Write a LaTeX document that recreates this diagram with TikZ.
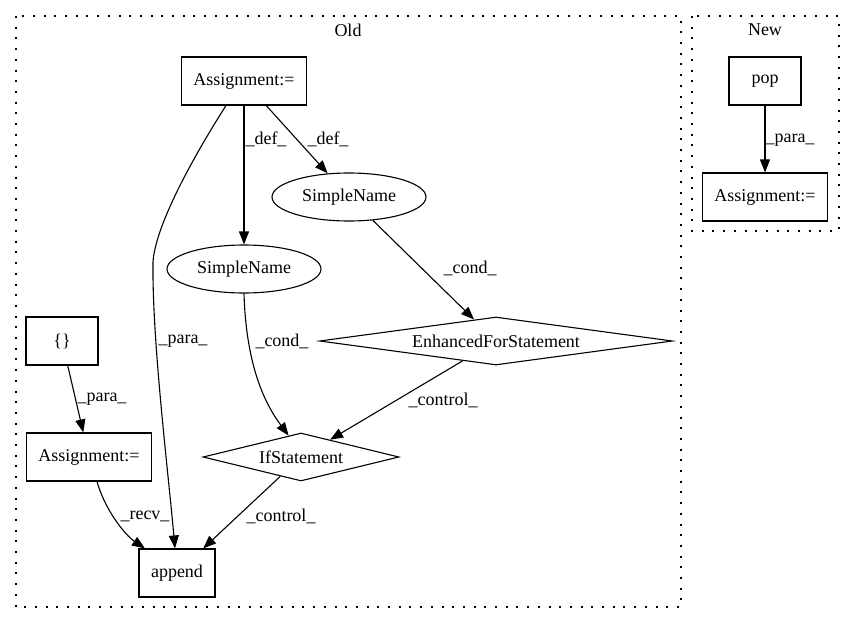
\documentclass[tikz,border=0pt]{standalone}
\usepackage{fontspec}
\setmainfont{Liberation Serif}
\usetikzlibrary{shapes.geometric,arrows.meta}

\tikzset{
  every node/.style={font=\fontsize{18}{21}\selectfont},
  box/.style={draw,line width=1.1pt,minimum width=72pt,minimum height=48pt,inner xsep=12pt},
  oval/.style={draw,line width=1.1pt,ellipse,minimum width=154pt,minimum height=48pt,inner sep=0pt},
  rhomb/.style={draw,line width=1.1pt,diamond,inner sep=0pt,minimum height=48pt},
  edge/.style={draw,line width=1.1pt,-{Triangle[length=13pt,width=10pt]}},
  lbl/.style={inner sep=0pt},
  cluster/.style={draw,line width=1.1pt,dash pattern=on 2pt off 8.7pt}
}

\begin{document}
\begin{tikzpicture}[x=1pt,y=-1pt]
    \useasboundingbox (0,0) rectangle (855,624);
    % clusters
    \draw[cluster] (16,16) rectangle (681,607);
    \draw[cluster] (692,16) rectangle (839,231);
    \node (old) at (348,30) {Old};
    \node (new) at (765,30) {New};

    % old graph
    \node[box] (asgA) at (244,81) {Assignment:=};
    \node[oval] (snR) at (349,197) {SimpleName};
    \node[oval] (snL) at (244,269) {SimpleName};
    \node[rhomb,aspect=7,minimum width=353pt] (efs) at (496,341) {EnhancedForStatement};
    \node[rhomb,aspect=4,minimum width=196pt] (ifs) at (301,457) {IfStatement};
    \node[box] (braces) at (62,341) {\{\}};
    \node[box] (asgB) at (89,457) {Assignment:=};
    \node[box] (app) at (177,573) {append};

    % new graph
    \node[box] (pop) at (765,81) {pop};
    \node[box] (asgN) at (765,197) {Assignment:=};

    \path[edge] (asgA) -- (snL) node[lbl] (l1) at (266,139) {\_def\_};
    \path[edge] (asgA) -- (snR) node[lbl] (l2) at (328,139) {\_def\_};
    \path[edge] ([xshift=-18pt]asgA.south) .. controls (185,170) and (155,230) .. (153,262)
          .. controls (152,340) and (168,470) .. ([xshift=-2pt]app.north)
          node[lbl] (l3) at (183,341) {\_para\_};
    \path[edge] (snL.south) .. controls (246,360) and (262,400) .. (ifs.120)
          node[lbl] (l4) at (282,341) {\_cond\_};
    \path[edge] (snR) -- (efs) node[lbl] (l5) at (470,268) {\_cond\_};
    \path[edge] (efs) -- (ifs) node[lbl] (l6) at (443,400) {\_control\_};
    \path[edge] (braces) -- (asgB) node[lbl] (l7) at (102,399) {\_para\_};
    \path[edge] ([xshift=8pt]asgB.south) .. controls (105,510) and (125,535) .. ([xshift=-32pt]app.north)
          node[lbl] (l8) at (145,516) {\_recv\_};
    \path[edge] (ifs) -- (app) node[lbl] (l9) at (281,516) {\_control\_};
    \path[edge] (pop) -- (asgN) node[lbl] (l10) at (790,140) {\_para\_};
\end{tikzpicture}
\end{document}
